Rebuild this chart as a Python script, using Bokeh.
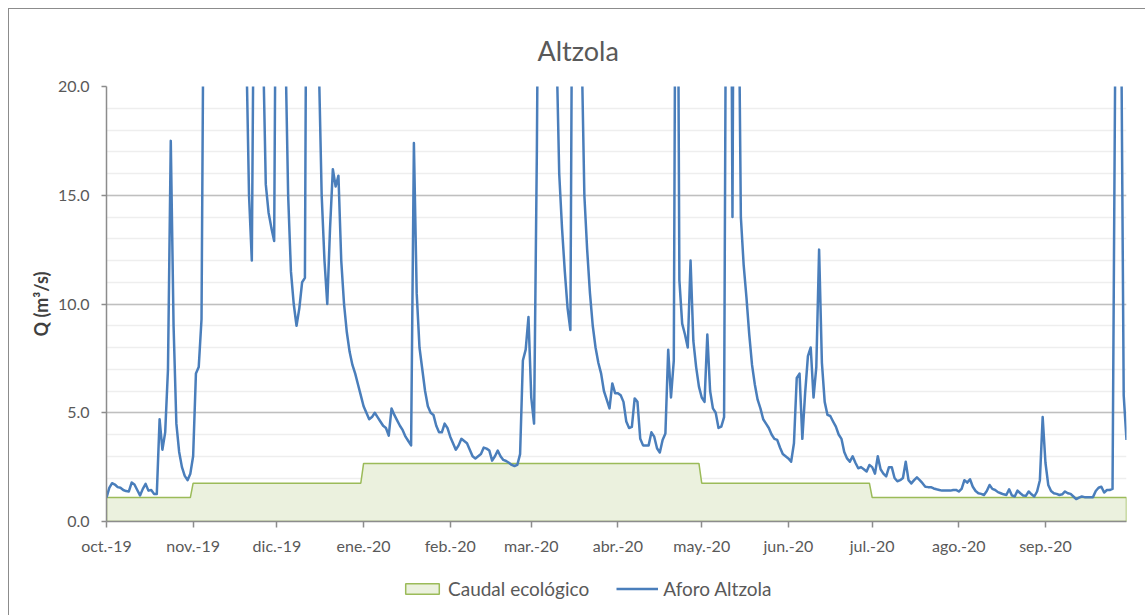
import numpy as np
from bokeh.plotting import figure
from bokeh.layouts import column
from bokeh.models import (Range1d, FixedTicker, SingleIntervalTicker, PrintfTickFormatter,
                          Legend, LegendItem)
from bokeh.embed import file_html
from bokeh.resources import INLINE

# ---------------- data ----------------
month_labels = ["oct.-19", "nov.-19", "dic.-19", "ene.-20", "feb.-20", "mar.-20",
                "abr.-20", "may.-20", "jun.-20", "jul.-20", "ago.-20", "sep.-20"]
month_lengths = [31, 30, 31, 31, 29, 31, 30, 31, 30, 31, 31, 30]

# Caudal ecológico (m3/s), one value per month
caudal_ecologico = [1.1, 1.76, 1.76, 2.67, 2.67, 2.67, 2.67, 1.76, 1.76, 1.1, 1.1, 1.1]

# Aforo Altzola, daily flow (m3/s), one list per month
aforo_oct = [1.1, 1.55, 1.76, 1.7, 1.58, 1.55, 1.45, 1.4, 1.38, 1.79, 1.7, 1.45, 1.2, 1.5,
             1.73, 1.42, 1.45, 1.27, 1.27, 4.7, 3.3, 4.1, 7.0, 17.5, 9.0, 4.5, 3.2, 2.5,
             2.1, 1.9, 2.2]
aforo_nov = [3.0, 6.8, 7.1, 9.3, 30, 55, 70, 60, 45, 38, 50, 65, 48, 40, 35, 42, 38, 32,
             28, 22, 15, 12, 30, 45, 35, 22, 15.5, 14.2, 13.5, 12.9]
aforo_dic = [35, 40, 35, 22, 15, 11.5, 10, 9.0, 9.8, 11.0, 11.2, 40, 45, 35, 28, 21, 15,
             12, 10.0, 13.5, 16.2, 15.4, 15.9, 12.0, 10.0, 8.7, 7.8, 7.2, 6.8, 6.3, 5.8]
aforo_ene = [5.3, 5.0, 4.7, 4.8, 5.0, 4.8, 4.6, 4.4, 4.3, 3.95, 5.2, 4.9, 4.65, 4.4, 4.2,
             3.9, 3.7, 3.5, 17.4, 10.5, 8.0, 7.0, 6.0, 5.3, 5.0, 4.9, 4.4, 4.1, 4.1, 4.5, 4.3]
aforo_feb = [3.9, 3.6, 3.3, 3.5, 3.8, 3.7, 3.6, 3.3, 3.0, 2.9, 3.0, 3.1, 3.4, 3.35, 3.26,
             2.8, 3.0, 3.26, 3.0, 2.83, 2.78, 2.7, 2.6, 2.55, 2.6, 3.1, 7.4, 7.9, 9.4]
aforo_mar = [5.7, 4.5, 17, 35, 50, 45, 40, 35, 30, 22, 16, 13.5, 11.5, 9.8, 8.8, 35, 40,
             30, 22, 15, 12.5, 10.5, 9.0, 8.0, 7.3, 6.8, 6.0, 5.6, 5.2, 6.35, 5.9]
aforo_abr = [5.9, 5.8, 5.5, 4.6, 4.3, 4.35, 5.66, 5.5, 3.8, 3.5, 3.5, 3.5, 4.1, 3.9, 3.37,
             3.17, 3.75, 4.05, 7.9, 5.7, 7.4, 40, 11.1, 9.1, 8.6, 8.0, 12.0, 8.3, 7.1, 6.2]
aforo_may = [5.7, 5.5, 8.6, 6.0, 5.2, 5.0, 4.3, 4.36, 4.8, 35, 40, 14, 45, 28, 14, 11.8,
             10.3, 8.6, 7.2, 6.3, 5.6, 5.2, 4.7, 4.5, 4.3, 4.0, 3.8, 3.75, 3.4, 3.1, 3.0]
aforo_jun = [2.9, 2.75, 3.6, 6.6, 6.8, 3.8, 5.9, 7.6, 8.0, 5.7, 7.1, 12.5, 7.3, 5.5, 4.9,
             4.85, 4.6, 4.36, 4.0, 3.8, 3.2, 2.9, 2.75, 3.0, 2.7, 2.45, 2.5, 2.4, 2.3, 2.6]
aforo_jul = [2.5, 2.2, 3.0, 2.4, 2.2, 2.07, 2.5, 2.5, 2.0, 1.85, 1.9, 2.0, 2.75, 1.9, 1.75,
             1.9, 2.03, 1.9, 1.76, 1.6, 1.58, 1.58, 1.52, 1.48, 1.45, 1.42, 1.42, 1.42, 1.42,
             1.45, 1.45]
aforo_ago = [1.38, 1.5, 1.9, 1.79, 1.94, 1.6, 1.4, 1.3, 1.27, 1.22, 1.4, 1.68, 1.5, 1.45,
             1.35, 1.3, 1.25, 1.22, 1.48, 1.2, 1.15, 1.42, 1.3, 1.2, 1.18, 1.38, 1.25, 1.15,
             1.38, 1.9, 4.8]
aforo_sep = [2.7, 1.68, 1.4, 1.3, 1.27, 1.22, 1.25, 1.38, 1.3, 1.27, 1.15, 1.03, 1.1, 1.15,
             1.12, 1.12, 1.12, 1.12, 1.4, 1.55, 1.6, 1.33, 1.45, 1.45, 1.5, 22, 40, 25, 5.8,
             3.75]

aforo = np.array(aforo_oct + aforo_nov + aforo_dic + aforo_ene + aforo_feb + aforo_mar +
                 aforo_abr + aforo_may + aforo_jun + aforo_jul + aforo_ago + aforo_sep)
n_days = int(sum(month_lengths))
assert len(aforo) == n_days
days = np.arange(n_days)
month_starts = [int(v) for v in np.concatenate([[0], np.cumsum(month_lengths)[:-1]])]
eco_daily = np.repeat(caudal_ecologico, month_lengths)

# ---------------- style ----------------
FONT = "Lato"
TXT = "#595959"
BLUE = "#4A7EBB"
GREEN = "#9BBB59"
GREEN_FILL = "#EBF1DE"
AXIS = "#8C8C8C"
W = 1136

p = figure(width=W, height=552, output_backend="svg", toolbar_location=None,
           x_range=Range1d(0, n_days - 1), y_range=Range1d(0, 20),
           min_border_left=97, min_border_right=19, min_border_top=77, min_border_bottom=40,
           background_fill_color="white", border_fill_color="white", outline_line_color=None)

# area for ecological flow
area_x = np.concatenate([[days[0]], days, [days[-1]]])
area_y = np.concatenate([[0], eco_daily, [0]])
r_eco = p.patch(area_x, area_y, fill_color=GREEN_FILL, line_color=GREEN, line_width=1.5)
r_afo = p.line(days, aforo, line_color=BLUE, line_width=2.5, line_join="round")

# title
p.title.text = "Altzola"
p.title.align = "left"
p.title.vertical_align = "top"
p.title.offset = 431
p.title.text_font = FONT
p.title.text_font_size = "27px"
p.title.text_font_style = "normal"
p.title.text_color = TXT
p.title.text_line_height = 1.2
p.title.standoff = 35

# axes
xa = p.xaxis[0]
xa.ticker = FixedTicker(ticks=month_starts)
xa.major_label_overrides = {m: lab for m, lab in zip(month_starts, month_labels)}
xa.minor_tick_line_color = None
xa.major_tick_out = 6
xa.major_tick_in = 0
xa.axis_line_color = AXIS
xa.axis_line_width = 1.5
xa.major_tick_line_color = AXIS
xa.major_tick_line_width = 1.5
xa.major_label_text_font = FONT
xa.major_label_text_font_size = "16px"
xa.major_label_text_color = TXT
xa.major_label_standoff = 8

ya = p.yaxis[0]
ya.ticker = SingleIntervalTicker(interval=5, num_minor_ticks=5)
ya.formatter = PrintfTickFormatter(format="%.1f")
ya.minor_tick_line_color = None
ya.major_tick_out = 5
ya.major_tick_in = 0
ya.axis_line_color = AXIS
ya.axis_line_width = 1.5
ya.major_tick_line_color = AXIS
ya.major_tick_line_width = 1.5
ya.major_label_text_font = FONT
ya.major_label_text_font_size = "16px"
ya.major_label_text_color = TXT
ya.major_label_standoff = 12
ya.axis_label = "Q (m³/s)"
ya.axis_label_text_font = FONT
ya.axis_label_text_font_size = "18px"
ya.axis_label_text_font_style = "bold"
ya.axis_label_text_color = "#404040"
ya.axis_label_standoff = 3

p.xgrid.grid_line_color = None
p.ygrid.grid_line_color = "#BFBFBF"
p.ygrid.grid_line_width = 1.5
p.ygrid.minor_grid_line_color = "#EEEEEE"
p.ygrid.minor_grid_line_width = 1.5

# legend strip below the chart (its own small canvas so it can sit off-centre);
# the key glyphs reuse the series, drawn outside this strip's visible range
pl = figure(width=W, height=54, output_backend="svg", toolbar_location=None,
            x_axis_location=None, y_axis_location=None, min_border=0,
            x_range=Range1d(-1000, -999), y_range=Range1d(-1000, -999),
            background_fill_color="white", border_fill_color="white", outline_line_color=None)
pl.grid.visible = False
k_eco = pl.patch(area_x, area_y, fill_color=GREEN_FILL, line_color=GREEN, line_width=1.5)
k_afo = pl.line(days, aforo, line_color=BLUE, line_width=2.5)
legend = Legend(items=[LegendItem(label="Caudal ecológico", renderers=[k_eco]),
                       LegendItem(label="Aforo Altzola", renderers=[k_afo])],
                orientation="horizontal", location=(295, 15),
                border_line_color=None, background_fill_alpha=0,
                label_text_font=FONT, label_text_font_size="19px", label_text_color=TXT,
                glyph_width=42, glyph_height=13, label_standoff=5, spacing=27,
                padding=0, margin=0)
pl.add_layout(legend)

page = column(p, pl, spacing=0,
              styles={"margin-left": "8px", "margin-top": "8px",
                      "border-left": "1px solid #8C8C8C", "border-top": "1px solid #8C8C8C"})

open("out.html", "w").write(file_html(page, INLINE))
